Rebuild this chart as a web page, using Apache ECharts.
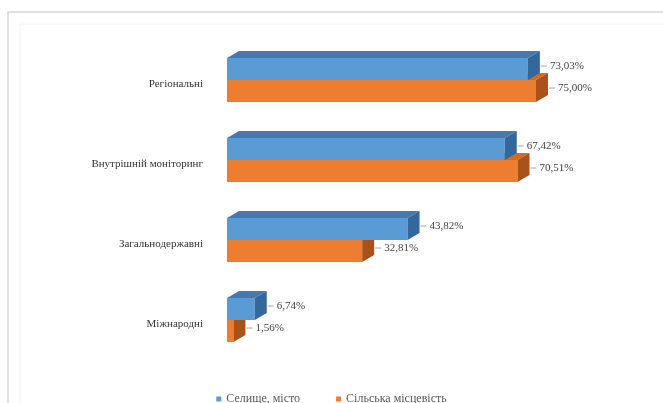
<!DOCTYPE html>
<html>
<head>
<meta charset="utf-8">
<script src="https://cdn.jsdelivr.net/npm/echarts@6/dist/echarts.min.js"></script>
<style>
html,body{margin:0;padding:0;background:#fff;}
#chart{width:663px;height:403px;}
</style>
</head>
<body>
<div id="chart"></div>
<script>
var categories = ['Регіональні', 'Внутрішній моніторинг', 'Загальнодержавні', 'Міжнародні'];
var seriesNames = ['Селище, місто', 'Сільська місцевість'];
var townValues = [73.03, 67.42, 43.82, 6.74];
var villageValues = [75.00, 70.51, 32.81, 1.56];

var palettes = [
  {front: '#5B9BD5', top: '#4679B0', side: '#34689C'},
  {front: '#ED7D31', top: '#D36A24', side: '#A9531B'}
];
var DX = 12, DY = 7;
var SERIF = '"Liberation Serif", "DejaVu Serif", serif';

function fmt(v) { return v.toFixed(2).replace('.', ',') + '%'; }

function makeRender(which) {
  return function (params, api) {
    var idx = api.value(0);
    var val = api.value(1);
    var c = api.coord([val, idx]);
    var x0 = api.coord([0, idx])[0];
    var x1 = c[0];
    var yc = c[1];
    var h = api.size([0, 1])[1] * 0.275;
    var y1 = which === 0 ? yc - h : yc;
    var y2 = which === 0 ? yc : yc + h;
    var p = palettes[which];
    var ly = (y1 + y2) / 2 - 3;
    var lx = x1 + DX;
    return {
      type: 'group',
      children: [
        {type: 'polygon', shape: {points: [[x0, y1], [x1, y1], [x1 + DX, y1 - DY], [x0 + DX, y1 - DY]]}, style: {fill: p.top}},
        {type: 'rect', shape: {x: x0, y: y1, width: x1 - x0, height: y2 - y1}, style: {fill: p.front}},
        {type: 'polygon', shape: {points: [[x1, y1], [x1 + DX, y1 - DY], [x1 + DX, y2 - DY], [x1, y2]]}, style: {fill: p.side}},
        {type: 'line', shape: {x1: lx + 1, y1: ly, x2: lx + 7, y2: ly}, style: {stroke: '#a6a6a6', lineWidth: 1}},
        {type: 'text', style: {text: fmt(val), x: lx + 10, y: ly, verticalAlign: 'middle', align: 'left',
          fill: '#404040', font: '11px ' + SERIF}}
      ]
    };
  };
}

var chart = echarts.init(document.getElementById('chart'));
chart.setOption({
  animation: false,
  backgroundColor: '#ffffff',
  graphic: [
    {type: 'rect', shape: {x: 8, y: 12, width: 720, height: 430}, style: {fill: 'none', stroke: '#d6d6d6', lineWidth: 1.5}, silent: true},
    {type: 'rect', shape: {x: 20, y: 24, width: 700, height: 420}, style: {fill: 'none', stroke: '#f4f4f4', lineWidth: 1}, silent: true}
  ],
  grid: {left: 227, top: 40, width: 412, height: 320},
  xAxis: {type: 'value', min: 0, max: 100, show: false},
  yAxis: {
    type: 'category', data: categories, inverse: true,
    axisLine: {show: false}, axisTick: {show: false},
    axisLabel: {margin: 24, color: '#333333', fontSize: 11, fontFamily: SERIF, verticalAlign: 'top', lineHeight: 9}
  },
  legend: {
    data: seriesNames, top: 388, left: 'center', icon: 'rect', itemWidth: 5, itemHeight: 5, itemGap: 36,
    textStyle: {color: '#595959', fontSize: 12, fontFamily: SERIF}
  },
  series: [
    {name: seriesNames[0], type: 'custom', z: 3, renderItem: makeRender(0), itemStyle: {color: palettes[0].front},
      encode: {x: 1, y: 0}, data: townValues.map(function (v, i) { return [i, v]; })},
    {name: seriesNames[1], type: 'custom', z: 2, renderItem: makeRender(1), itemStyle: {color: palettes[1].front},
      encode: {x: 1, y: 0}, data: villageValues.map(function (v, i) { return [i, v]; })}
  ]
});
</script>
</body>
</html>
